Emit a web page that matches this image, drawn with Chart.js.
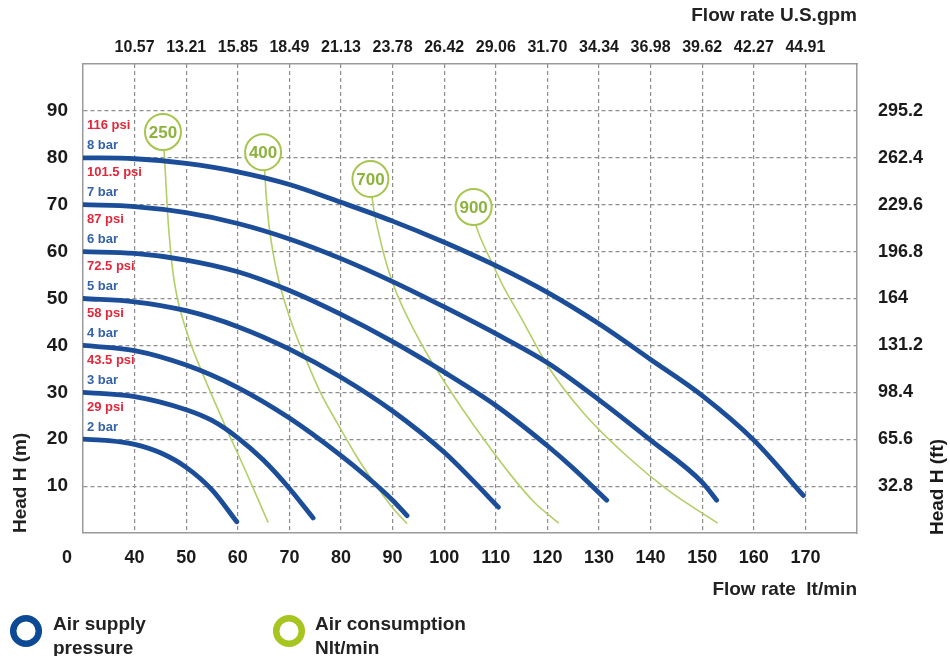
<!DOCTYPE html>
<html>
<head>
<meta charset="utf-8">
<script src="https://cdn.jsdelivr.net/npm/chart.js@4.4.0/dist/chart.umd.min.js"></script>
<style>
  html, body { margin: 0; padding: 0; background: #fff; }
  canvas { display: block; }
</style>
</head>
<body>
<canvas id="pumpChart" width="950" height="656"></canvas>
<script>
// flow rate lt/min grid values and the matching U.S.gpm labels on the top axis
const flowTicks = [40, 50, 60, 70, 80, 90, 100, 110, 120, 130, 140, 150, 160, 170];
const gpmLabels = ["10.57", "13.21", "15.85", "18.49", "21.13", "23.78", "26.42",
                   "29.06", "31.70", "34.34", "36.98", "39.62", "42.27", "44.91"];
// head in metres (left) and feet (right)
const headTicks = [10, 20, 30, 40, 50, 60, 70, 80, 90];
const ftLabels = ["32.8", "65.6", "98.4", "131.2", "164", "196.8", "229.6", "262.4", "295.2"];

// air supply pressure curves, [flow lt/min, head m]
const barLabels = ["2 bar", "3 bar", "4 bar", "5 bar", "6 bar", "7 bar", "8 bar"];
const psiLabels = ["29 psi", "43.5 psi", "58 psi", "72.5 psi", "87 psi", "101.5 psi", "116 psi"];
const curve2bar = [[30, 20], [35, 19.7], [40, 18.9], [45, 17.1], [50, 14], [55, 9.2], [59.8, 2.4]];
const curve3bar = [[30, 30], [40, 29.1], [50, 26.3], [55, 24], [60, 20.3], [65, 15.5], [70, 9.5], [74.6, 3.2]];
const curve4bar = [[30, 40], [40, 38.9], [50, 35.8], [60, 31], [70, 24.5], [80, 16.5], [85, 12], [90, 7], [92.8, 3.7]];
const curve5bar = [[30, 50], [40, 49.3], [50, 47.4], [60, 44], [70, 39.2], [80, 33.2], [90, 26], [100, 17.2], [105, 11.8], [110.5, 5.5]];
const curve6bar = [[30, 60], [40, 59.6], [50, 58.2], [60, 55.7], [70, 51.7], [80, 46.6], [90, 40.8], [100, 34.3],
                   [110, 27.2], [120, 18.6], [125, 13.8], [131.5, 7]];
const curve7bar = [[30, 70], [40, 69.6], [50, 68.3], [60, 66], [70, 62.7], [80, 58.5], [90, 53.6], [100, 48.2],
                   [110, 42.5], [120, 36.3], [130, 28.4], [140, 19.8], [150, 10.8], [152.8, 7]];
const curve8bar = [[30, 80], [40, 79.8], [50, 78.8], [60, 77], [70, 74.3], [80, 70.5], [90, 66.5], [100, 62],
                   [110, 57], [120, 51.3], [130, 44.6], [140, 37], [150, 29.3], [160, 19.8], [169.6, 8]];

// air consumption Nlt/min lines and their tags
const airLabels = ["250", "400", "700", "900"];
const airTagX = [45.5, 64.9, 85.7, 105.7];
const airTagY = [85.5, 81.2, 75.5, 69.5];
const air250 = [[45.7, 81.7], [46.0, 76], [46.4, 68], [46.9, 61], [47.5, 55], [48.3, 50], [49.5, 45], [51, 40],
                [52.8, 35], [55.5, 28], [58.3, 21], [61, 14.5], [63.4, 8.5], [65.9, 2.2]];
const air400 = [[65.2, 77.4], [65.5, 72], [66, 66], [66.8, 60], [67.9, 54], [69.3, 48.5], [71, 43], [73.2, 37],
                [76, 30], [79.5, 23], [83.2, 16], [87.2, 9.5], [90.3, 5], [92.8, 2]];
const air700 = [[86, 71.7], [86.5, 68], [87.3, 64], [88.4, 59], [89.8, 54], [91.6, 49], [93.8, 44], [96.5, 38.5],
                [99.6, 33], [103.5, 26.5], [108, 19.5], [112.8, 12.5], [117.5, 6.5], [122.2, 2.1]];
const air900 = [[106.1, 65.7], [107, 63], [109, 58.2], [111.5, 52.5], [114.8, 46.1], [120.2, 35.4],
                [127, 25.6], [135.6, 16.2], [143.3, 9.2], [153, 2.1]];

const blue = "#1b4d99";
const green = "#b3cf66";
const tagGreen = "#a6c54e";
const FONT = "'Liberation Sans', Arial, sans-serif";
Chart.defaults.font.family = FONT;

const pressureCurves = [curve2bar, curve3bar, curve4bar, curve5bar, curve6bar, curve7bar, curve8bar];
const airLines = [air250, air400, air700, air900];
const toPts = arr => arr.map(p => ({ x: p[0], y: p[1] }));

const datasets = [];
datasets.push({
  label: "tags",
  data: airTagX.map((x, i) => ({ x: x, y: airTagY[i] })),
  showLine: false,
  pointRadius: 18,
  pointBackgroundColor: "#fff",
  pointBorderColor: tagGreen,
  pointBorderWidth: 2
});
pressureCurves.forEach((c, i) => {
  datasets.push({
    label: barLabels[i],
    data: toPts(c),
    showLine: true,
    borderColor: blue,
    borderWidth: 4.8,
    borderCapStyle: "round",
    pointRadius: 0,
    cubicInterpolationMode: "monotone"
  });
});
airLines.forEach((c, i) => {
  datasets.push({
    label: airLabels[i],
    data: toPts(c),
    showLine: true,
    borderColor: green,
    borderWidth: 1.6,
    pointRadius: 0,
    cubicInterpolationMode: "monotone"
  });
});

const gridColor = "#8e8e8e";
function innerGrid(ctx) {
  const v = ctx.tick ? ctx.tick.value : null;
  return (v === ctx.scale.min || v === ctx.scale.max) ? "rgba(0,0,0,0)" : gridColor;
}

const extras = {
  id: "extras",
  afterDatasetsDraw(chart) {
    const ctx = chart.ctx;
    const xs = chart.scales.x, ys = chart.scales.y;
    // numbers in the air consumption tags
    const meta = chart.getDatasetMeta(0);
    ctx.save();
    ctx.font = "bold 17px " + FONT;
    ctx.fillStyle = "#8cb33c";
    ctx.textAlign = "center";
    ctx.textBaseline = "middle";
    meta.data.forEach((pt, i) => ctx.fillText(airLabels[i], pt.x, pt.y + 1));
    // psi / bar labels above each curve start
    ctx.font = "bold 13px 'Liberation Sans Narrow', " + FONT;
    ctx.textAlign = "left";
    pressureCurves.forEach((c, i) => {
      const y0 = ys.getPixelForValue(c[0][1]);
      ctx.fillStyle = "#e0283a";
      ctx.fillText(psiLabels[i], xs.left + 4, y0 - 32);
      ctx.fillStyle = "#3462a8";
      ctx.fillText(barLabels[i], xs.left + 4, y0 - 12);
    });
    ctx.restore();
  },
  afterDraw(chart) {
    const ctx = chart.ctx;
    const area = chart.chartArea;
    ctx.save();
    // origin label
    ctx.fillStyle = "#1a1a1a";
    ctx.font = "bold 18px " + FONT;
    ctx.textAlign = "center";
    ctx.textBaseline = "middle";
    ctx.fillText("0", area.left - 16, area.bottom + 25);
    // right axis title, reading upward
    ctx.font = "bold 19px " + FONT;
    ctx.translate(938, area.bottom + 2);
    ctx.rotate(-Math.PI / 2);
    ctx.textAlign = "left";
    ctx.fillText("Head H (ft)", 0, 0);
    ctx.restore();

    // legend
    const items = [
      { lines: ["Air supply", "pressure"], color: "#0d4a96", cx: 26, tx: 53 },
      { lines: ["Air consumption", "Nlt/min"], color: "#a7c51f", cx: 289, tx: 315 }
    ];
    ctx.save();
    items.forEach(it => {
      ctx.beginPath();
      ctx.arc(it.cx, 631, 12.8, 0, Math.PI * 2);
      ctx.lineWidth = 6.5;
      ctx.strokeStyle = it.color;
      ctx.stroke();
      ctx.fillStyle = "#222";
      ctx.font = "bold 19px " + FONT;
      ctx.textAlign = "left";
      ctx.textBaseline = "alphabetic";
      ctx.fillText(it.lines[0], it.tx, 630);
      ctx.fillText(it.lines[1], it.tx, 654);
    });
    ctx.restore();
  }
};

const tickFont = size => ({ size: size, weight: "bold", family: FONT });

new Chart(document.getElementById("pumpChart"), {
  type: "scatter",
  data: { datasets: datasets },
  options: {
    responsive: false,
    animation: false,
    layout: { padding: { left: 0, right: 0, top: 0, bottom: 53 } },
    plugins: { legend: { display: false }, tooltip: { enabled: false } },
    scales: {
      x: {
        type: "linear", position: "bottom", min: 30, max: 180,
        afterFit: s => { s.height = 70; },
        ticks: {
          stepSize: 10, autoSkip: false, maxRotation: 0, padding: 14,
          color: "#1a1a1a", font: tickFont(18),
          callback: v => flowTicks.includes(v) ? String(v) : ""
        },
        grid: { color: innerGrid, lineWidth: 1.2, drawTicks: false },
        border: { display: true, color: "#9a9a9a", width: 1.5, dash: [4, 3] },
        title: {
          display: true, text: "Flow rate  lt/min", align: "end", color: "#222",
          font: tickFont(19), padding: { top: 0, bottom: 2 }
        }
      },
      x2: {
        type: "linear", position: "top", min: 30, max: 180,
        afterFit: s => { s.height = 64; },
        ticks: {
          stepSize: 10, autoSkip: false, maxRotation: 0, padding: 7,
          color: "#1a1a1a", font: tickFont(16),
          callback: v => { const i = flowTicks.indexOf(v); return i >= 0 ? gpmLabels[i] : ""; }
        },
        grid: { display: false, drawTicks: false },
        border: { display: true, color: "#9a9a9a", width: 1.5 },
        title: {
          display: true, text: "Flow rate U.S.gpm", align: "end", color: "#222",
          font: tickFont(19), padding: { top: 4, bottom: 0 }
        }
      },
      y: {
        type: "linear", position: "left", min: 0, max: 100,
        afterFit: s => { s.width = 83; },
        ticks: {
          stepSize: 10, padding: 15, color: "#1a1a1a", font: tickFont(19),
          callback: v => headTicks.includes(v) ? String(v) : ""
        },
        grid: { color: innerGrid, lineWidth: 1.2, drawTicks: false },
        border: { display: true, color: "#9a9a9a", width: 1.5, dash: [4, 3] },
        title: {
          display: true, text: "Head H (m)", align: "start", color: "#222",
          font: tickFont(19), padding: { top: 9, bottom: 0 }
        }
      },
      y2: {
        type: "linear", position: "right", min: 0, max: 100,
        afterFit: s => { s.width = 93; },
        ticks: {
          stepSize: 10, padding: 21, color: "#1a1a1a", font: tickFont(18),
          callback: v => { const i = headTicks.indexOf(v); return i >= 0 ? ftLabels[i] : ""; }
        },
        grid: { display: false, drawTicks: false },
        border: { display: true, color: "#9a9a9a", width: 1.5 }
      }
    }
  },
  plugins: [extras]
});
</script>
</body>
</html>
